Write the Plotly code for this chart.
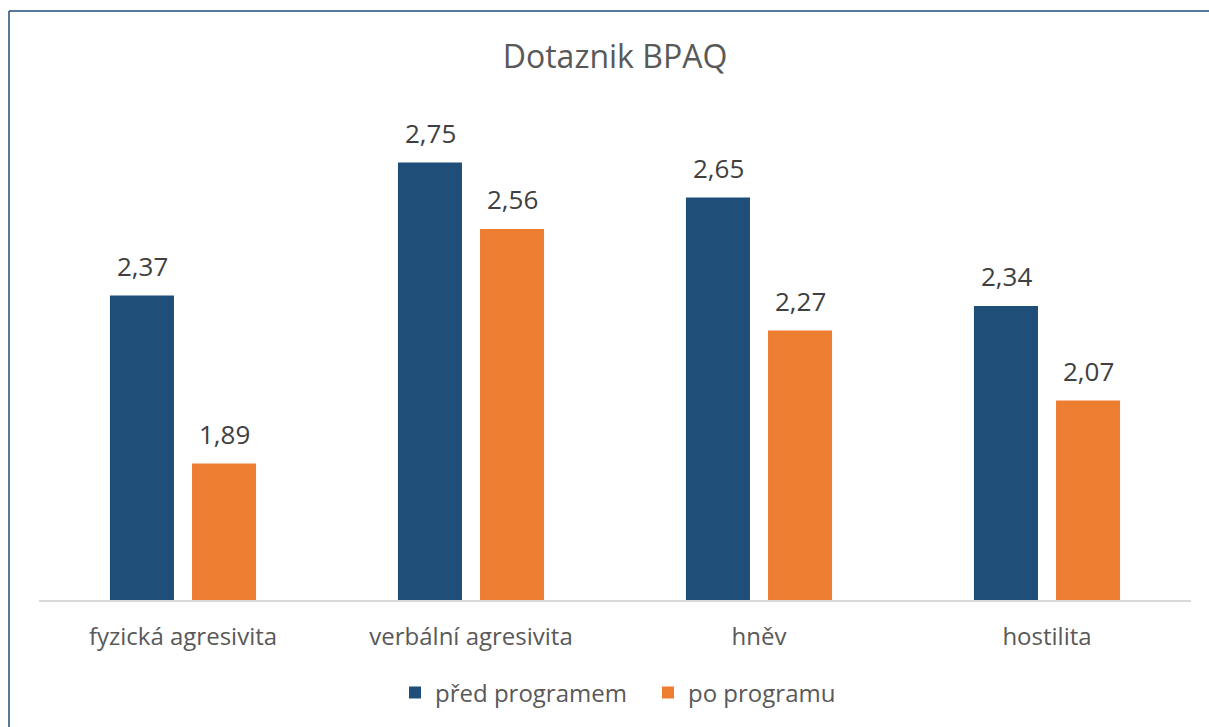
import plotly.graph_objects as go

categories = ["fyzická agresivita", "verbální agresivita", "hněv", "hostilita"]
before = [2.37, 2.75, 2.65, 2.34]
after = [1.89, 2.56, 2.27, 2.07]
series_names = ["před programem", "po programu"]
colors = ["#1F4E79", "#ED7D31"]
title_text = "Dotaznik BPAQ"

FONT = "Open Sans, sans-serif"

fig = go.Figure()
for name, vals, col, lg in zip(series_names, [before, after], colors, ["legend", "legend2"]):
    fig.add_trace(go.Bar(x=categories, y=vals, name=name, marker=dict(color=col, line=dict(width=0)),
                         hoverinfo="skip", legend=lg))

annotations = []
for vals, shift in [(before, -41), (after, 41)]:
    for c, v in zip(categories, vals):
        annotations.append(dict(x=c, y=v, xref="x", yref="y", text=f"{v:.2f}".replace(".", ","),
                                showarrow=False, xshift=shift, yshift=10, yanchor="bottom",
                                font=dict(family=FONT, size=26, color="#404040")))

legend_common = dict(orientation="h", xanchor="left", y=(600 - 693) / 525, yanchor="middle",
                     font=dict(family=FONT, size=24, color="#595959"), itemwidth=30,
                     bgcolor="rgba(0,0,0,0)")

fig.update_layout(
    width=1209, height=727,
    margin=dict(l=39, r=18, t=75, b=127),
    paper_bgcolor="white", plot_bgcolor="white",
    bargap=0.43, bargroupgap=0.22,
    title=dict(text=title_text, x=0.5, xref="paper", xanchor="center", y=1 - 57 / 727, yanchor="middle",
               font=dict(family=FONT, size=32, color="#595959")),
    xaxis=dict(showline=True, linecolor="#D9D9D9", linewidth=1.5, ticks="outside", ticklen=14,
               tickcolor="rgba(0,0,0,0)", tickfont=dict(family=FONT, size=24, color="#595959"),
               showgrid=False),
    yaxis=dict(range=[1.5, 3.0], visible=False, showgrid=False),
    showlegend=True,
    legend=dict(x=(395 - 39) / 1152, **legend_common),
    legend2=dict(x=(648 - 39) / 1152, **legend_common),
    annotations=annotations,
    shapes=[
        dict(type="line", xref="paper", yref="paper", x0=(9 - 39) / 1152, x1=(1209 - 39) / 1152,
             y0=(600 - 11) / 525, y1=(600 - 11) / 525, line=dict(color="#1F4E79", width=1.5)),
        dict(type="line", xref="paper", yref="paper", x0=(9 - 39) / 1152, x1=(9 - 39) / 1152,
             y0=(600 - 11) / 525, y1=(600 - 727) / 525, line=dict(color="#1F4E79", width=1.5)),
    ],
)

fig.write_html("out.html", config={"displayModeBar": False},
               post_script="document.body.style.margin='0';")
